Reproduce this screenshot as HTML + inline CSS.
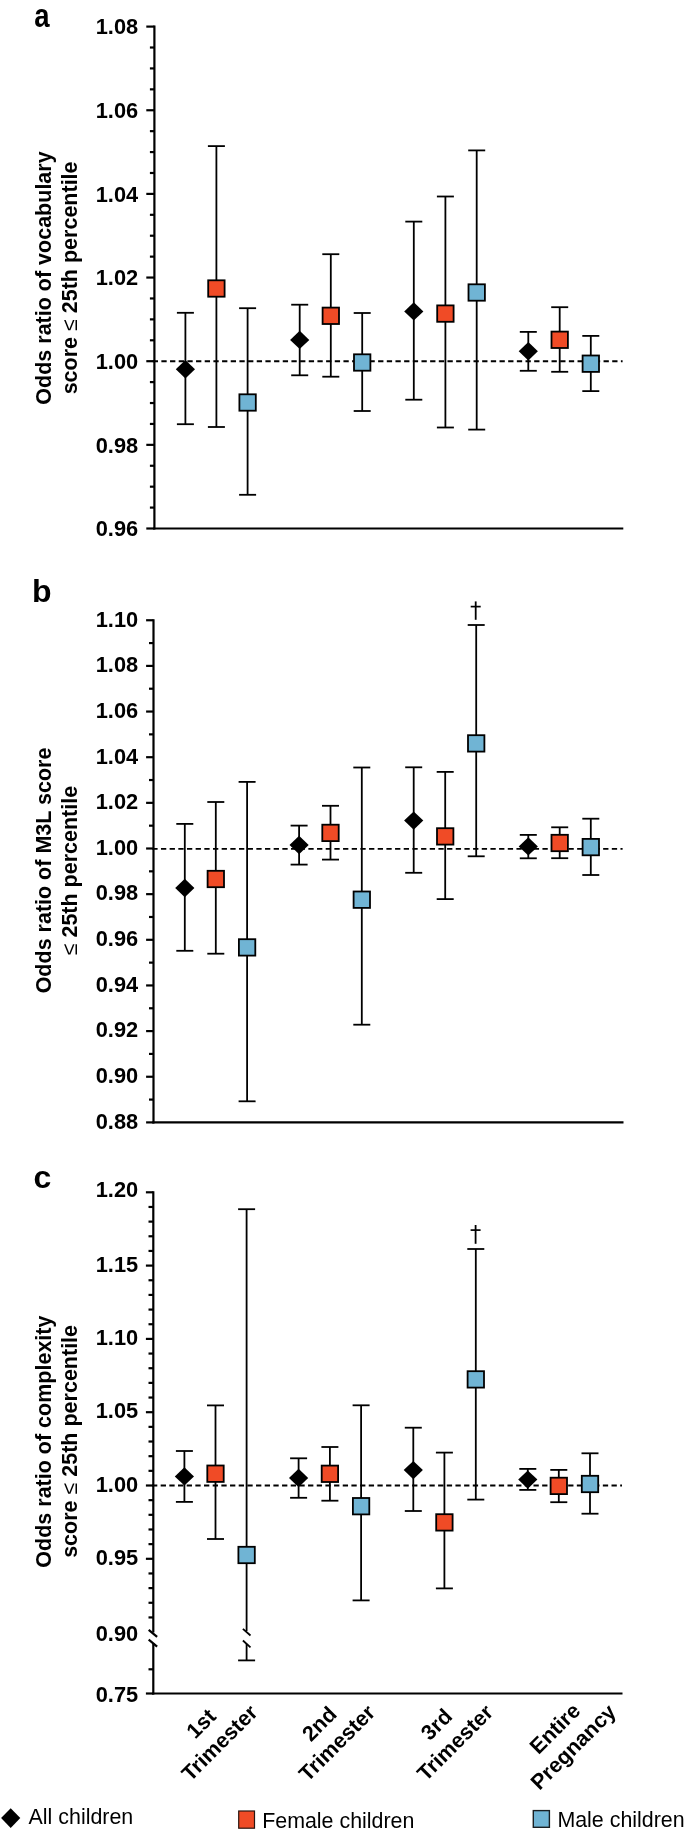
<!DOCTYPE html>
<html><head><meta charset="utf-8"><style>
html,body{margin:0;padding:0;background:#fff;}
body{width:685px;height:1838px;overflow:hidden;}
svg{display:block;will-change:transform;}
text{font-family:"Liberation Sans",sans-serif;fill:#000;}
.tl{font-size:21.8px;font-weight:bold;text-anchor:end;}
.pl{font-size:32px;font-weight:bold;}
.yl{font-size:21.5px;font-weight:bold;text-anchor:middle;}
.xl{font-size:21.5px;font-weight:bold;text-anchor:middle;}
.lg{font-size:21.4px;}
.le{font-weight:normal;}
</style></head><body>
<svg width="685" height="1838" viewBox="0 0 685 1838">
<rect width="685" height="1838" fill="#fff"/>
<text transform="translate(34.2,27) scale(0.86,1.06)" class="pl">a</text>
<line x1="146.30" y1="528.50" x2="154.40" y2="528.50" stroke="#000" stroke-width="2.2" />
<line x1="149.90" y1="507.59" x2="154.40" y2="507.59" stroke="#000" stroke-width="2.2" />
<line x1="149.90" y1="486.68" x2="154.40" y2="486.68" stroke="#000" stroke-width="2.2" />
<line x1="149.90" y1="465.76" x2="154.40" y2="465.76" stroke="#000" stroke-width="2.2" />
<line x1="146.30" y1="444.85" x2="154.40" y2="444.85" stroke="#000" stroke-width="2.2" />
<line x1="149.90" y1="423.94" x2="154.40" y2="423.94" stroke="#000" stroke-width="2.2" />
<line x1="149.90" y1="403.03" x2="154.40" y2="403.03" stroke="#000" stroke-width="2.2" />
<line x1="149.90" y1="382.11" x2="154.40" y2="382.11" stroke="#000" stroke-width="2.2" />
<line x1="146.30" y1="361.20" x2="154.40" y2="361.20" stroke="#000" stroke-width="2.2" />
<line x1="149.90" y1="340.29" x2="154.40" y2="340.29" stroke="#000" stroke-width="2.2" />
<line x1="149.90" y1="319.37" x2="154.40" y2="319.37" stroke="#000" stroke-width="2.2" />
<line x1="149.90" y1="298.46" x2="154.40" y2="298.46" stroke="#000" stroke-width="2.2" />
<line x1="146.30" y1="277.55" x2="154.40" y2="277.55" stroke="#000" stroke-width="2.2" />
<line x1="149.90" y1="256.64" x2="154.40" y2="256.64" stroke="#000" stroke-width="2.2" />
<line x1="149.90" y1="235.72" x2="154.40" y2="235.72" stroke="#000" stroke-width="2.2" />
<line x1="149.90" y1="214.81" x2="154.40" y2="214.81" stroke="#000" stroke-width="2.2" />
<line x1="146.30" y1="193.90" x2="154.40" y2="193.90" stroke="#000" stroke-width="2.2" />
<line x1="149.90" y1="172.99" x2="154.40" y2="172.99" stroke="#000" stroke-width="2.2" />
<line x1="149.90" y1="152.07" x2="154.40" y2="152.07" stroke="#000" stroke-width="2.2" />
<line x1="149.90" y1="131.16" x2="154.40" y2="131.16" stroke="#000" stroke-width="2.2" />
<line x1="146.30" y1="110.25" x2="154.40" y2="110.25" stroke="#000" stroke-width="2.2" />
<line x1="149.90" y1="89.34" x2="154.40" y2="89.34" stroke="#000" stroke-width="2.2" />
<line x1="149.90" y1="68.42" x2="154.40" y2="68.42" stroke="#000" stroke-width="2.2" />
<line x1="149.90" y1="47.51" x2="154.40" y2="47.51" stroke="#000" stroke-width="2.2" />
<line x1="146.30" y1="26.60" x2="154.40" y2="26.60" stroke="#000" stroke-width="2.2" />
<text x="138.2" y="34.30" class="tl">1.08</text>
<text x="138.2" y="117.95" class="tl">1.06</text>
<text x="138.2" y="201.60" class="tl">1.04</text>
<text x="138.2" y="285.25" class="tl">1.02</text>
<text x="138.2" y="368.90" class="tl">1.00</text>
<text x="138.2" y="452.55" class="tl">0.98</text>
<text x="138.2" y="536.20" class="tl">0.96</text>
<line x1="154.40" y1="25.50" x2="154.40" y2="529.60" stroke="#000" stroke-width="2.2" />
<line x1="153.30" y1="528.50" x2="623.30" y2="528.50" stroke="#000" stroke-width="2.2" />
<line x1="152.7" y1="361.20" x2="622.6" y2="361.20" stroke="#000" stroke-width="1.9" stroke-dasharray="5.3 3.37"/>
<text transform="translate(51.0,278.0) rotate(-90)" class="yl">Odds ratio of vocabulary</text>
<text transform="translate(76.9,277.9) rotate(-90)" class="yl">score <tspan class="le">≤</tspan> 25th percentile</text>
<line x1="185.40" y1="312.80" x2="185.40" y2="424.20" stroke="#000" stroke-width="1.8" />
<line x1="176.90" y1="312.80" x2="193.90" y2="312.80" stroke="#000" stroke-width="1.8" />
<line x1="176.90" y1="424.20" x2="193.90" y2="424.20" stroke="#000" stroke-width="1.8" />
<line x1="216.40" y1="146.10" x2="216.40" y2="427.00" stroke="#000" stroke-width="1.8" />
<line x1="207.90" y1="146.10" x2="224.90" y2="146.10" stroke="#000" stroke-width="1.8" />
<line x1="207.90" y1="427.00" x2="224.90" y2="427.00" stroke="#000" stroke-width="1.8" />
<line x1="247.60" y1="308.20" x2="247.60" y2="494.80" stroke="#000" stroke-width="1.8" />
<line x1="239.10" y1="308.20" x2="256.10" y2="308.20" stroke="#000" stroke-width="1.8" />
<line x1="239.10" y1="494.80" x2="256.10" y2="494.80" stroke="#000" stroke-width="1.8" />
<line x1="299.70" y1="304.70" x2="299.70" y2="375.30" stroke="#000" stroke-width="1.8" />
<line x1="291.20" y1="304.70" x2="308.20" y2="304.70" stroke="#000" stroke-width="1.8" />
<line x1="291.20" y1="375.30" x2="308.20" y2="375.30" stroke="#000" stroke-width="1.8" />
<line x1="330.80" y1="254.20" x2="330.80" y2="376.70" stroke="#000" stroke-width="1.8" />
<line x1="322.30" y1="254.20" x2="339.30" y2="254.20" stroke="#000" stroke-width="1.8" />
<line x1="322.30" y1="376.70" x2="339.30" y2="376.70" stroke="#000" stroke-width="1.8" />
<line x1="362.20" y1="313.00" x2="362.20" y2="411.00" stroke="#000" stroke-width="1.8" />
<line x1="353.70" y1="313.00" x2="370.70" y2="313.00" stroke="#000" stroke-width="1.8" />
<line x1="353.70" y1="411.00" x2="370.70" y2="411.00" stroke="#000" stroke-width="1.8" />
<line x1="413.80" y1="221.60" x2="413.80" y2="399.70" stroke="#000" stroke-width="1.8" />
<line x1="405.30" y1="221.60" x2="422.30" y2="221.60" stroke="#000" stroke-width="1.8" />
<line x1="405.30" y1="399.70" x2="422.30" y2="399.70" stroke="#000" stroke-width="1.8" />
<line x1="445.40" y1="196.50" x2="445.40" y2="427.50" stroke="#000" stroke-width="1.8" />
<line x1="436.90" y1="196.50" x2="453.90" y2="196.50" stroke="#000" stroke-width="1.8" />
<line x1="436.90" y1="427.50" x2="453.90" y2="427.50" stroke="#000" stroke-width="1.8" />
<line x1="476.70" y1="150.40" x2="476.70" y2="429.60" stroke="#000" stroke-width="1.8" />
<line x1="468.20" y1="150.40" x2="485.20" y2="150.40" stroke="#000" stroke-width="1.8" />
<line x1="468.20" y1="429.60" x2="485.20" y2="429.60" stroke="#000" stroke-width="1.8" />
<line x1="528.30" y1="331.90" x2="528.30" y2="370.80" stroke="#000" stroke-width="1.8" />
<line x1="519.80" y1="331.90" x2="536.80" y2="331.90" stroke="#000" stroke-width="1.8" />
<line x1="519.80" y1="370.80" x2="536.80" y2="370.80" stroke="#000" stroke-width="1.8" />
<line x1="559.70" y1="307.20" x2="559.70" y2="371.80" stroke="#000" stroke-width="1.8" />
<line x1="551.20" y1="307.20" x2="568.20" y2="307.20" stroke="#000" stroke-width="1.8" />
<line x1="551.20" y1="371.80" x2="568.20" y2="371.80" stroke="#000" stroke-width="1.8" />
<line x1="590.80" y1="335.90" x2="590.80" y2="391.10" stroke="#000" stroke-width="1.8" />
<line x1="582.30" y1="335.90" x2="599.30" y2="335.90" stroke="#000" stroke-width="1.8" />
<line x1="582.30" y1="391.10" x2="599.30" y2="391.10" stroke="#000" stroke-width="1.8" />
<polygon points="185.40,360.00 195.00,369.20 185.40,378.40 175.80,369.20" fill="#000"/>
<rect x="208.20" y="280.30" width="16.40" height="16.40" fill="#f04b26" stroke="#000" stroke-width="1.8"/>
<rect x="239.40" y="394.30" width="16.40" height="16.40" fill="#70b4d4" stroke="#000" stroke-width="1.8"/>
<polygon points="299.70,330.70 309.30,339.90 299.70,349.10 290.10,339.90" fill="#000"/>
<rect x="322.60" y="307.60" width="16.40" height="16.40" fill="#f04b26" stroke="#000" stroke-width="1.8"/>
<rect x="354.00" y="354.30" width="16.40" height="16.40" fill="#70b4d4" stroke="#000" stroke-width="1.8"/>
<polygon points="413.80,302.20 423.40,311.40 413.80,320.60 404.20,311.40" fill="#000"/>
<rect x="437.20" y="305.40" width="16.40" height="16.40" fill="#f04b26" stroke="#000" stroke-width="1.8"/>
<rect x="468.50" y="284.30" width="16.40" height="16.40" fill="#70b4d4" stroke="#000" stroke-width="1.8"/>
<polygon points="528.30,342.00 537.90,351.20 528.30,360.40 518.70,351.20" fill="#000"/>
<rect x="551.50" y="331.60" width="16.40" height="16.40" fill="#f04b26" stroke="#000" stroke-width="1.8"/>
<rect x="582.60" y="355.50" width="16.40" height="16.40" fill="#70b4d4" stroke="#000" stroke-width="1.8"/>
<text x="32" y="601.5" class="pl">b</text>
<line x1="146.10" y1="1122.40" x2="153.50" y2="1122.40" stroke="#000" stroke-width="2.2" />
<line x1="149.00" y1="1099.58" x2="153.50" y2="1099.58" stroke="#000" stroke-width="2.2" />
<line x1="146.10" y1="1076.75" x2="153.50" y2="1076.75" stroke="#000" stroke-width="2.2" />
<line x1="149.00" y1="1053.92" x2="153.50" y2="1053.92" stroke="#000" stroke-width="2.2" />
<line x1="146.10" y1="1031.10" x2="153.50" y2="1031.10" stroke="#000" stroke-width="2.2" />
<line x1="149.00" y1="1008.27" x2="153.50" y2="1008.27" stroke="#000" stroke-width="2.2" />
<line x1="146.10" y1="985.45" x2="153.50" y2="985.45" stroke="#000" stroke-width="2.2" />
<line x1="149.00" y1="962.63" x2="153.50" y2="962.63" stroke="#000" stroke-width="2.2" />
<line x1="146.10" y1="939.80" x2="153.50" y2="939.80" stroke="#000" stroke-width="2.2" />
<line x1="149.00" y1="916.98" x2="153.50" y2="916.98" stroke="#000" stroke-width="2.2" />
<line x1="146.10" y1="894.15" x2="153.50" y2="894.15" stroke="#000" stroke-width="2.2" />
<line x1="149.00" y1="871.33" x2="153.50" y2="871.33" stroke="#000" stroke-width="2.2" />
<line x1="146.10" y1="848.50" x2="153.50" y2="848.50" stroke="#000" stroke-width="2.2" />
<line x1="149.00" y1="825.67" x2="153.50" y2="825.67" stroke="#000" stroke-width="2.2" />
<line x1="146.10" y1="802.85" x2="153.50" y2="802.85" stroke="#000" stroke-width="2.2" />
<line x1="149.00" y1="780.02" x2="153.50" y2="780.02" stroke="#000" stroke-width="2.2" />
<line x1="146.10" y1="757.20" x2="153.50" y2="757.20" stroke="#000" stroke-width="2.2" />
<line x1="149.00" y1="734.37" x2="153.50" y2="734.37" stroke="#000" stroke-width="2.2" />
<line x1="146.10" y1="711.55" x2="153.50" y2="711.55" stroke="#000" stroke-width="2.2" />
<line x1="149.00" y1="688.72" x2="153.50" y2="688.72" stroke="#000" stroke-width="2.2" />
<line x1="146.10" y1="665.90" x2="153.50" y2="665.90" stroke="#000" stroke-width="2.2" />
<line x1="149.00" y1="643.07" x2="153.50" y2="643.07" stroke="#000" stroke-width="2.2" />
<line x1="146.10" y1="620.25" x2="153.50" y2="620.25" stroke="#000" stroke-width="2.2" />
<text x="138.2" y="1128.70" class="tl">0.88</text>
<text x="138.2" y="1083.05" class="tl">0.90</text>
<text x="138.2" y="1037.40" class="tl">0.92</text>
<text x="138.2" y="991.75" class="tl">0.94</text>
<text x="138.2" y="946.10" class="tl">0.96</text>
<text x="138.2" y="900.45" class="tl">0.98</text>
<text x="138.2" y="854.80" class="tl">1.00</text>
<text x="138.2" y="809.15" class="tl">1.02</text>
<text x="138.2" y="763.50" class="tl">1.04</text>
<text x="138.2" y="717.85" class="tl">1.06</text>
<text x="138.2" y="672.20" class="tl">1.08</text>
<text x="138.2" y="626.55" class="tl">1.10</text>
<line x1="153.50" y1="619.15" x2="153.50" y2="1123.50" stroke="#000" stroke-width="2.2" />
<line x1="152.40" y1="1122.40" x2="623.50" y2="1122.40" stroke="#000" stroke-width="2.2" />
<line x1="152.3" y1="848.90" x2="622.6" y2="848.90" stroke="#000" stroke-width="1.9" stroke-dasharray="5.3 3.37"/>
<text transform="translate(51.0,870.5) rotate(-90)" class="yl">Odds ratio of M3L score</text>
<text transform="translate(76.9,870.6) rotate(-90)" class="yl"><tspan class="le">≤</tspan> 25th percentile</text>
<line x1="184.80" y1="823.90" x2="184.80" y2="950.80" stroke="#000" stroke-width="1.8" />
<line x1="176.30" y1="823.90" x2="193.30" y2="823.90" stroke="#000" stroke-width="1.8" />
<line x1="176.30" y1="950.80" x2="193.30" y2="950.80" stroke="#000" stroke-width="1.8" />
<line x1="215.80" y1="802.00" x2="215.80" y2="953.70" stroke="#000" stroke-width="1.8" />
<line x1="207.30" y1="802.00" x2="224.30" y2="802.00" stroke="#000" stroke-width="1.8" />
<line x1="207.30" y1="953.70" x2="224.30" y2="953.70" stroke="#000" stroke-width="1.8" />
<line x1="247.10" y1="781.90" x2="247.10" y2="1101.30" stroke="#000" stroke-width="1.8" />
<line x1="238.60" y1="781.90" x2="255.60" y2="781.90" stroke="#000" stroke-width="1.8" />
<line x1="238.60" y1="1101.30" x2="255.60" y2="1101.30" stroke="#000" stroke-width="1.8" />
<line x1="299.10" y1="825.60" x2="299.10" y2="864.60" stroke="#000" stroke-width="1.8" />
<line x1="290.60" y1="825.60" x2="307.60" y2="825.60" stroke="#000" stroke-width="1.8" />
<line x1="290.60" y1="864.60" x2="307.60" y2="864.60" stroke="#000" stroke-width="1.8" />
<line x1="330.50" y1="805.80" x2="330.50" y2="859.60" stroke="#000" stroke-width="1.8" />
<line x1="322.00" y1="805.80" x2="339.00" y2="805.80" stroke="#000" stroke-width="1.8" />
<line x1="322.00" y1="859.60" x2="339.00" y2="859.60" stroke="#000" stroke-width="1.8" />
<line x1="361.80" y1="767.50" x2="361.80" y2="1024.70" stroke="#000" stroke-width="1.8" />
<line x1="353.30" y1="767.50" x2="370.30" y2="767.50" stroke="#000" stroke-width="1.8" />
<line x1="353.30" y1="1024.70" x2="370.30" y2="1024.70" stroke="#000" stroke-width="1.8" />
<line x1="413.70" y1="767.30" x2="413.70" y2="872.80" stroke="#000" stroke-width="1.8" />
<line x1="405.20" y1="767.30" x2="422.20" y2="767.30" stroke="#000" stroke-width="1.8" />
<line x1="405.20" y1="872.80" x2="422.20" y2="872.80" stroke="#000" stroke-width="1.8" />
<line x1="445.20" y1="771.90" x2="445.20" y2="899.10" stroke="#000" stroke-width="1.8" />
<line x1="436.70" y1="771.90" x2="453.70" y2="771.90" stroke="#000" stroke-width="1.8" />
<line x1="436.70" y1="899.10" x2="453.70" y2="899.10" stroke="#000" stroke-width="1.8" />
<line x1="476.20" y1="625.00" x2="476.20" y2="856.30" stroke="#000" stroke-width="1.8" />
<line x1="467.70" y1="625.00" x2="484.70" y2="625.00" stroke="#000" stroke-width="1.8" />
<line x1="467.70" y1="856.30" x2="484.70" y2="856.30" stroke="#000" stroke-width="1.8" />
<line x1="528.30" y1="834.90" x2="528.30" y2="858.30" stroke="#000" stroke-width="1.8" />
<line x1="519.80" y1="834.90" x2="536.80" y2="834.90" stroke="#000" stroke-width="1.8" />
<line x1="519.80" y1="858.30" x2="536.80" y2="858.30" stroke="#000" stroke-width="1.8" />
<line x1="559.70" y1="827.30" x2="559.70" y2="858.20" stroke="#000" stroke-width="1.8" />
<line x1="551.20" y1="827.30" x2="568.20" y2="827.30" stroke="#000" stroke-width="1.8" />
<line x1="551.20" y1="858.20" x2="568.20" y2="858.20" stroke="#000" stroke-width="1.8" />
<line x1="590.80" y1="818.70" x2="590.80" y2="875.00" stroke="#000" stroke-width="1.8" />
<line x1="582.30" y1="818.70" x2="599.30" y2="818.70" stroke="#000" stroke-width="1.8" />
<line x1="582.30" y1="875.00" x2="599.30" y2="875.00" stroke="#000" stroke-width="1.8" />
<polygon points="184.80,878.80 194.40,888.00 184.80,897.20 175.20,888.00" fill="#000"/>
<rect x="207.60" y="870.80" width="16.40" height="16.40" fill="#f04b26" stroke="#000" stroke-width="1.8"/>
<rect x="238.90" y="939.20" width="16.40" height="16.40" fill="#70b4d4" stroke="#000" stroke-width="1.8"/>
<polygon points="299.10,835.80 308.70,845.00 299.10,854.20 289.50,845.00" fill="#000"/>
<rect x="322.30" y="824.70" width="16.40" height="16.40" fill="#f04b26" stroke="#000" stroke-width="1.8"/>
<rect x="353.60" y="891.50" width="16.40" height="16.40" fill="#70b4d4" stroke="#000" stroke-width="1.8"/>
<polygon points="413.70,811.40 423.30,820.60 413.70,829.80 404.10,820.60" fill="#000"/>
<rect x="437.00" y="828.20" width="16.40" height="16.40" fill="#f04b26" stroke="#000" stroke-width="1.8"/>
<rect x="468.00" y="735.20" width="16.40" height="16.40" fill="#70b4d4" stroke="#000" stroke-width="1.8"/>
<polygon points="528.30,837.20 537.90,846.40 528.30,855.60 518.70,846.40" fill="#000"/>
<rect x="551.50" y="834.80" width="16.40" height="16.40" fill="#f04b26" stroke="#000" stroke-width="1.8"/>
<rect x="582.60" y="838.90" width="16.40" height="16.40" fill="#70b4d4" stroke="#000" stroke-width="1.8"/>
<text x="33.5" y="1188" class="pl">c</text>
<line x1="145.90" y1="1192.30" x2="153.30" y2="1192.30" stroke="#000" stroke-width="2.2" />
<line x1="148.50" y1="1206.96" x2="153.30" y2="1206.96" stroke="#000" stroke-width="2.2" />
<line x1="148.50" y1="1221.62" x2="153.30" y2="1221.62" stroke="#000" stroke-width="2.2" />
<line x1="148.50" y1="1236.28" x2="153.30" y2="1236.28" stroke="#000" stroke-width="2.2" />
<line x1="148.50" y1="1250.94" x2="153.30" y2="1250.94" stroke="#000" stroke-width="2.2" />
<line x1="145.90" y1="1265.60" x2="153.30" y2="1265.60" stroke="#000" stroke-width="2.2" />
<line x1="148.50" y1="1280.26" x2="153.30" y2="1280.26" stroke="#000" stroke-width="2.2" />
<line x1="148.50" y1="1294.92" x2="153.30" y2="1294.92" stroke="#000" stroke-width="2.2" />
<line x1="148.50" y1="1309.58" x2="153.30" y2="1309.58" stroke="#000" stroke-width="2.2" />
<line x1="148.50" y1="1324.24" x2="153.30" y2="1324.24" stroke="#000" stroke-width="2.2" />
<line x1="145.90" y1="1338.90" x2="153.30" y2="1338.90" stroke="#000" stroke-width="2.2" />
<line x1="148.50" y1="1353.56" x2="153.30" y2="1353.56" stroke="#000" stroke-width="2.2" />
<line x1="148.50" y1="1368.22" x2="153.30" y2="1368.22" stroke="#000" stroke-width="2.2" />
<line x1="148.50" y1="1382.88" x2="153.30" y2="1382.88" stroke="#000" stroke-width="2.2" />
<line x1="148.50" y1="1397.54" x2="153.30" y2="1397.54" stroke="#000" stroke-width="2.2" />
<line x1="145.90" y1="1412.20" x2="153.30" y2="1412.20" stroke="#000" stroke-width="2.2" />
<line x1="148.50" y1="1426.86" x2="153.30" y2="1426.86" stroke="#000" stroke-width="2.2" />
<line x1="148.50" y1="1441.52" x2="153.30" y2="1441.52" stroke="#000" stroke-width="2.2" />
<line x1="148.50" y1="1456.18" x2="153.30" y2="1456.18" stroke="#000" stroke-width="2.2" />
<line x1="148.50" y1="1470.84" x2="153.30" y2="1470.84" stroke="#000" stroke-width="2.2" />
<line x1="145.90" y1="1485.50" x2="153.30" y2="1485.50" stroke="#000" stroke-width="2.2" />
<line x1="148.50" y1="1500.16" x2="153.30" y2="1500.16" stroke="#000" stroke-width="2.2" />
<line x1="148.50" y1="1514.82" x2="153.30" y2="1514.82" stroke="#000" stroke-width="2.2" />
<line x1="148.50" y1="1529.48" x2="153.30" y2="1529.48" stroke="#000" stroke-width="2.2" />
<line x1="148.50" y1="1544.14" x2="153.30" y2="1544.14" stroke="#000" stroke-width="2.2" />
<line x1="145.90" y1="1558.80" x2="153.30" y2="1558.80" stroke="#000" stroke-width="2.2" />
<line x1="148.50" y1="1573.46" x2="153.30" y2="1573.46" stroke="#000" stroke-width="2.2" />
<line x1="148.50" y1="1588.12" x2="153.30" y2="1588.12" stroke="#000" stroke-width="2.2" />
<line x1="148.50" y1="1602.78" x2="153.30" y2="1602.78" stroke="#000" stroke-width="2.2" />
<line x1="148.50" y1="1617.44" x2="153.30" y2="1617.44" stroke="#000" stroke-width="2.2" />
<text x="138.2" y="1196.60" class="tl">1.20</text>
<text x="138.2" y="1271.70" class="tl">1.15</text>
<text x="138.2" y="1345.00" class="tl">1.10</text>
<text x="138.2" y="1418.30" class="tl">1.05</text>
<text x="138.2" y="1491.60" class="tl">1.00</text>
<text x="138.2" y="1564.90" class="tl">0.95</text>
<text x="138.2" y="1640.90" class="tl">0.90</text>
<text x="138.2" y="1701.90" class="tl">0.75</text>
<line x1="153.30" y1="1191.20" x2="153.30" y2="1632.60" stroke="#000" stroke-width="2.2" />
<line x1="153.30" y1="1643.00" x2="153.30" y2="1694.60" stroke="#000" stroke-width="2.2" />
<line x1="148.70" y1="1629.90" x2="157.10" y2="1636.90" stroke="#000" stroke-width="2.2" />
<line x1="148.70" y1="1639.60" x2="157.10" y2="1646.60" stroke="#000" stroke-width="2.2" />
<line x1="148.50" y1="1669.30" x2="153.30" y2="1669.30" stroke="#000" stroke-width="2.2" />
<line x1="145.90" y1="1693.50" x2="153.30" y2="1693.50" stroke="#000" stroke-width="2.2" />
<line x1="152.20" y1="1693.50" x2="622.50" y2="1693.50" stroke="#000" stroke-width="2.2" />
<line x1="152.0" y1="1485.50" x2="622.0" y2="1485.50" stroke="#000" stroke-width="1.9" stroke-dasharray="5.3 3.37"/>
<text transform="translate(51.0,1441.6) rotate(-90)" class="yl">Odds ratio of complexity</text>
<text transform="translate(76.9,1441.4) rotate(-90)" class="yl">score <tspan class="le">≤</tspan> 25th percentile</text>
<line x1="184.40" y1="1451.00" x2="184.40" y2="1501.90" stroke="#000" stroke-width="1.8" />
<line x1="175.90" y1="1451.00" x2="192.90" y2="1451.00" stroke="#000" stroke-width="1.8" />
<line x1="175.90" y1="1501.90" x2="192.90" y2="1501.90" stroke="#000" stroke-width="1.8" />
<line x1="215.50" y1="1405.40" x2="215.50" y2="1539.00" stroke="#000" stroke-width="1.8" />
<line x1="207.00" y1="1405.40" x2="224.00" y2="1405.40" stroke="#000" stroke-width="1.8" />
<line x1="207.00" y1="1539.00" x2="224.00" y2="1539.00" stroke="#000" stroke-width="1.8" />
<line x1="246.60" y1="1209.20" x2="246.60" y2="1631.10" stroke="#000" stroke-width="1.8" />
<line x1="246.60" y1="1643.80" x2="246.60" y2="1660.40" stroke="#000" stroke-width="1.8" />
<line x1="238.10" y1="1209.20" x2="255.10" y2="1209.20" stroke="#000" stroke-width="1.8" />
<line x1="238.10" y1="1660.40" x2="255.10" y2="1660.40" stroke="#000" stroke-width="1.8" />
<line x1="298.60" y1="1458.30" x2="298.60" y2="1497.80" stroke="#000" stroke-width="1.8" />
<line x1="290.10" y1="1458.30" x2="307.10" y2="1458.30" stroke="#000" stroke-width="1.8" />
<line x1="290.10" y1="1497.80" x2="307.10" y2="1497.80" stroke="#000" stroke-width="1.8" />
<line x1="329.90" y1="1447.00" x2="329.90" y2="1500.70" stroke="#000" stroke-width="1.8" />
<line x1="321.40" y1="1447.00" x2="338.40" y2="1447.00" stroke="#000" stroke-width="1.8" />
<line x1="321.40" y1="1500.70" x2="338.40" y2="1500.70" stroke="#000" stroke-width="1.8" />
<line x1="361.10" y1="1405.30" x2="361.10" y2="1600.40" stroke="#000" stroke-width="1.8" />
<line x1="352.60" y1="1405.30" x2="369.60" y2="1405.30" stroke="#000" stroke-width="1.8" />
<line x1="352.60" y1="1600.40" x2="369.60" y2="1600.40" stroke="#000" stroke-width="1.8" />
<line x1="413.30" y1="1427.70" x2="413.30" y2="1511.00" stroke="#000" stroke-width="1.8" />
<line x1="404.80" y1="1427.70" x2="421.80" y2="1427.70" stroke="#000" stroke-width="1.8" />
<line x1="404.80" y1="1511.00" x2="421.80" y2="1511.00" stroke="#000" stroke-width="1.8" />
<line x1="444.40" y1="1452.60" x2="444.40" y2="1588.40" stroke="#000" stroke-width="1.8" />
<line x1="435.90" y1="1452.60" x2="452.90" y2="1452.60" stroke="#000" stroke-width="1.8" />
<line x1="435.90" y1="1588.40" x2="452.90" y2="1588.40" stroke="#000" stroke-width="1.8" />
<line x1="475.80" y1="1249.00" x2="475.80" y2="1499.60" stroke="#000" stroke-width="1.8" />
<line x1="467.30" y1="1249.00" x2="484.30" y2="1249.00" stroke="#000" stroke-width="1.8" />
<line x1="467.30" y1="1499.60" x2="484.30" y2="1499.60" stroke="#000" stroke-width="1.8" />
<line x1="527.80" y1="1468.90" x2="527.80" y2="1489.90" stroke="#000" stroke-width="1.8" />
<line x1="519.30" y1="1468.90" x2="536.30" y2="1468.90" stroke="#000" stroke-width="1.8" />
<line x1="519.30" y1="1489.90" x2="536.30" y2="1489.90" stroke="#000" stroke-width="1.8" />
<line x1="558.80" y1="1469.90" x2="558.80" y2="1502.20" stroke="#000" stroke-width="1.8" />
<line x1="550.30" y1="1469.90" x2="567.30" y2="1469.90" stroke="#000" stroke-width="1.8" />
<line x1="550.30" y1="1502.20" x2="567.30" y2="1502.20" stroke="#000" stroke-width="1.8" />
<line x1="590.00" y1="1453.30" x2="590.00" y2="1513.70" stroke="#000" stroke-width="1.8" />
<line x1="581.50" y1="1453.30" x2="598.50" y2="1453.30" stroke="#000" stroke-width="1.8" />
<line x1="581.50" y1="1513.70" x2="598.50" y2="1513.70" stroke="#000" stroke-width="1.8" />
<polygon points="184.40,1467.20 194.00,1476.40 184.40,1485.60 174.80,1476.40" fill="#000"/>
<rect x="207.30" y="1465.50" width="16.40" height="16.40" fill="#f04b26" stroke="#000" stroke-width="1.8"/>
<rect x="238.40" y="1546.80" width="16.40" height="16.40" fill="#70b4d4" stroke="#000" stroke-width="1.8"/>
<polygon points="298.60,1468.80 308.20,1478.00 298.60,1487.20 289.00,1478.00" fill="#000"/>
<rect x="321.70" y="1465.60" width="16.40" height="16.40" fill="#f04b26" stroke="#000" stroke-width="1.8"/>
<rect x="352.90" y="1498.00" width="16.40" height="16.40" fill="#70b4d4" stroke="#000" stroke-width="1.8"/>
<polygon points="413.30,1460.90 422.90,1470.10 413.30,1479.30 403.70,1470.10" fill="#000"/>
<rect x="436.20" y="1514.20" width="16.40" height="16.40" fill="#f04b26" stroke="#000" stroke-width="1.8"/>
<rect x="467.60" y="1371.20" width="16.40" height="16.40" fill="#70b4d4" stroke="#000" stroke-width="1.8"/>
<polygon points="527.80,1470.40 537.40,1479.60 527.80,1488.80 518.20,1479.60" fill="#000"/>
<rect x="550.60" y="1477.70" width="16.40" height="16.40" fill="#f04b26" stroke="#000" stroke-width="1.8"/>
<rect x="581.80" y="1475.80" width="16.40" height="16.40" fill="#70b4d4" stroke="#000" stroke-width="1.8"/>
<line x1="242.90" y1="1628.90" x2="250.50" y2="1635.50" stroke="#000" stroke-width="1.8" />
<line x1="242.90" y1="1640.50" x2="250.50" y2="1647.30" stroke="#000" stroke-width="1.8" />
<line x1="475.70" y1="601.40" x2="475.70" y2="619.80" stroke="#000" stroke-width="1.8" />
<line x1="470.70" y1="606.60" x2="480.70" y2="606.60" stroke="#000" stroke-width="1.7" />
<line x1="475.60" y1="1225.00" x2="475.60" y2="1243.80" stroke="#000" stroke-width="1.8" />
<line x1="470.60" y1="1230.10" x2="480.60" y2="1230.10" stroke="#000" stroke-width="1.7" />
<text transform="translate(206.20,1728.80) rotate(-45)" class="xl">1st</text>
<text transform="translate(224.65,1747.95) rotate(-45)" class="xl">Trimester</text>
<text transform="translate(324.40,1729.05) rotate(-45)" class="xl">2nd</text>
<text transform="translate(342.10,1748.15) rotate(-45)" class="xl">Trimester</text>
<text transform="translate(441.70,1729.60) rotate(-45)" class="xl">3rd</text>
<text transform="translate(460.15,1747.80) rotate(-45)" class="xl">Trimester</text>
<text transform="translate(560.05,1733.65) rotate(-45)" class="xl">Entire</text>
<text transform="translate(578.35,1752.05) rotate(-45)" class="xl">Pregnancy</text>
<polygon points="10.70,1808.20 20.30,1818.10 10.70,1828.00 1.10,1818.10" fill="#000"/>
<rect x="238.7" y="1811.0" width="15.8" height="17.2" fill="#f04b26" stroke="#2a1510" stroke-width="1.2"/>
<rect x="533.3" y="1810.6" width="16.1" height="16.7" fill="#70b4d4" stroke="#1a1f22" stroke-width="1.4"/>
<text x="28.6" y="1824.1" class="lg">All children</text>
<text x="262.2" y="1827.7" class="lg">Female children</text>
<text x="557.4" y="1827.4" class="lg">Male children</text>
</svg>
</body></html>
